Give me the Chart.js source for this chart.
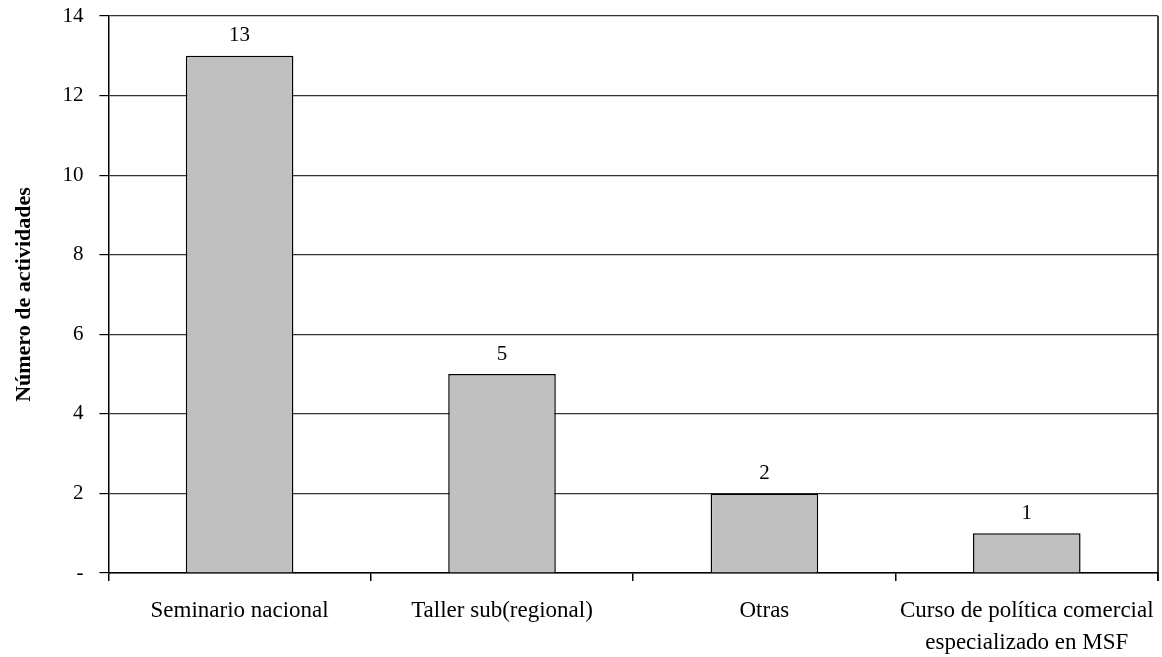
<!DOCTYPE html>
<html>
<head>
<meta charset="utf-8">
<script src="https://cdn.jsdelivr.net/npm/chart.js@4/dist/chart.umd.min.js"></script>
<style>
  html, body { margin: 0; padding: 0; background: #fff; }
</style>
</head>
<body>
<canvas id="grafico" width="1162" height="657"></canvas>
<script>
// datos del gráfico
const categorias = [
    'Seminario nacional',
    'Taller sub(regional)',
    'Otras',
    ['Curso de política comercial', 'especializado en MSF']
];
const actividades = [13, 5, 2, 1];
const tituloEjeY = 'Número de actividades';

const FUENTE = '"Liberation Serif", "Times New Roman", serif';

// etiquetas de valor encima de cada barra
const etiquetasValor = {
    id: 'etiquetasValor',
    afterDatasetsDraw(chart) {
        const ctx = chart.ctx;
        const meta = chart.getDatasetMeta(0);
        ctx.save();
        ctx.font = '21px ' + FUENTE;
        ctx.fillStyle = '#000';
        ctx.textAlign = 'center';
        ctx.textBaseline = 'middle';
        meta.data.forEach((barra, i) => {
            ctx.fillText(String(actividades[i]), barra.x, barra.y - 20);
        });
        ctx.restore();
    }
};

// borde derecho del área de trazado
const bordeDerecho = {
    id: 'bordeDerecho',
    beforeDatasetsDraw(chart) {
        const { ctx, chartArea } = chart;
        ctx.save();
        ctx.strokeStyle = '#000';
        ctx.lineWidth = 1.5;
        ctx.beginPath();
        ctx.moveTo(chartArea.right, chartArea.top);
        ctx.lineTo(chartArea.right, chartArea.bottom + 8);
        ctx.stroke();
        ctx.restore();
    }
};

new Chart(document.getElementById('grafico'), {
    type: 'bar',
    data: {
        labels: categorias,
        datasets: [{
            data: actividades,
            backgroundColor: '#c0c0c0',
            borderColor: '#000',
            borderWidth: 1.5,
            barPercentage: 0.41,
            categoryPercentage: 1
        }]
    },
    options: {
        responsive: false,
        animation: false,
        layout: { padding: { top: 16, right: 4, left: 11, bottom: 0 } },
        plugins: {
            legend: { display: false },
            tooltip: { enabled: false }
        },
        scales: {
            x: {
                afterFit: escala => {
                    // alto fijo del eje y sin margen extra a los lados
                    escala.height = 84;
                    escala.paddingLeft = 0;
                    escala.paddingRight = 0;
                },
                grid: {
                    offset: true,
                    drawOnChartArea: false,
                    tickColor: '#000',
                    tickLength: 8,
                    lineWidth: 1.5
                },
                border: { color: '#000', width: 1.5 },
                ticks: {
                    color: '#000',
                    font: { family: FUENTE, size: 23, lineHeight: 1.4 },
                    padding: 14,
                    maxRotation: 0
                }
            },
            y: {
                min: 0,
                max: 14,
                afterFit: escala => {
                    escala.paddingTop = 0;
                    escala.paddingBottom = 0;
                },
                grid: {
                    color: '#333',
                    tickColor: '#000',
                    tickLength: 9,
                    lineWidth: 1.2
                },
                border: { color: '#000', width: 1.5 },
                ticks: {
                    stepSize: 2,
                    color: '#000',
                    padding: 16,
                    font: { family: FUENTE, size: 21 },
                    callback: v => v === 0 ? '-' : v
                },
                title: {
                    display: true,
                    text: tituloEjeY,
                    color: '#000',
                    font: { family: FUENTE, size: 22, weight: 'bold' },
                    padding: { top: 0, bottom: 9 }
                }
            }
        }
    },
    plugins: [etiquetasValor, bordeDerecho]
});
</script>
</body>
</html>
